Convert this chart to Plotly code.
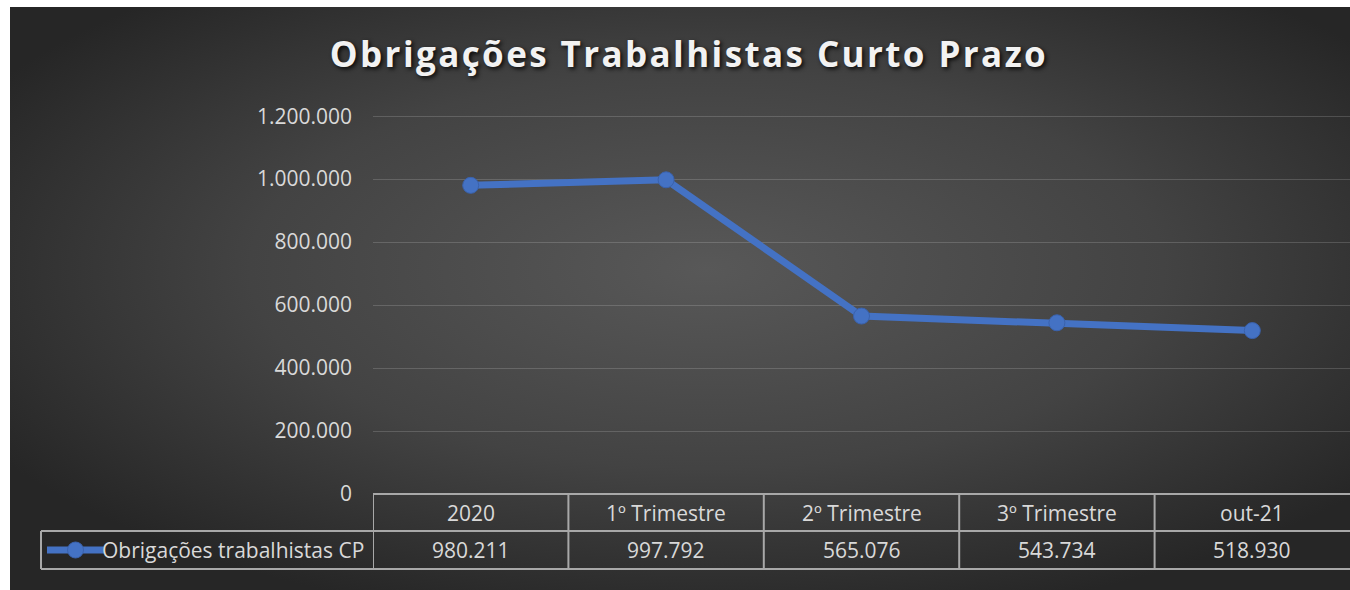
import base64
import plotly.graph_objects as go

# ---- data ----
categories = ["2020", "1º Trimestre", "2º Trimestre", "3º Trimestre", "out-21"]
values = [980211, 997792, 565076, 543734, 518930]
series_name = "Obrigações trabalhistas CP"
title_text = "Obrigações Trabalhistas Curto Prazo"
y_ticks = [0, 200000, 400000, 600000, 800000, 1000000, 1200000]
y_max = 1210000

# ---- geometry (screen pixels; body margin removed) ----
W, H = 1350, 590
L, R, T, B = 373, 0, 113, 96
PW, PH = W - L - R, H - T - B


def px_x(sx):
    return (sx - L) / PW


def px_y(sy):
    return (H - B - sy) / PH


def fmt(v):
    return f"{v:,}".replace(",", ".")


TXT = "#d9d9d9"
BORDER = "#a8a8a8"
BLUE = "#4472C4"
FONT = "Open Sans"
FS = 21

# radial gradient background as SVG (starts at x=10, y=7 like the reference crop)
BG_W, BG_H = W - 10, H - 7
svg = (
    f'<svg xmlns="http://www.w3.org/2000/svg" width="{BG_W}" height="{BG_H}" viewBox="0 0 {BG_W} {BG_H}">'
    '<defs><radialGradient id="g" cx="52%" cy="45%" r="62%">'
    '<stop offset="0" stop-color="#585858"/>'
    '<stop offset="0.55" stop-color="#434343"/>'
    '<stop offset="1" stop-color="#262626"/>'
    '</radialGradient></defs>'
    f'<rect width="{BG_W}" height="{BG_H}" fill="url(#g)"/></svg>'
)
bg_src = "data:image/svg+xml;base64," + base64.b64encode(svg.encode()).decode()

fig = go.Figure()
fig.add_trace(
    go.Scatter(
        x=list(range(len(categories))),
        y=values,
        mode="lines+markers",
        name=series_name,
        line=dict(color=BLUE, width=7),
        marker=dict(size=16, color=BLUE, line=dict(color="#3a62ad", width=1)),
        hoverinfo="skip",
        showlegend=False,
    )
)

shapes = []
y_top, y_mid, y_bot = px_y(494), px_y(531), px_y(569)
x_leg = px_x(41)
line_style = dict(color=BORDER, width=2)
# horizontal table lines
shapes.append(dict(type="line", xref="paper", yref="paper", x0=0, x1=1, y0=y_top, y1=y_top, line=line_style))
shapes.append(dict(type="line", xref="paper", yref="paper", x0=x_leg, x1=1, y0=y_mid, y1=y_mid, line=line_style))
shapes.append(dict(type="line", xref="paper", yref="paper", x0=x_leg, x1=1, y0=y_bot, y1=y_bot, line=line_style))
# vertical dividers at category boundaries (right border falls outside the crop)
for i in range(len(categories)):
    shapes.append(dict(type="line", xref="x", yref="paper", x0=i - 0.5, x1=i - 0.5,
                       y0=y_top, y1=y_bot, line=line_style))
shapes.append(dict(type="line", xref="paper", yref="paper", x0=x_leg, x1=x_leg,
                   y0=y_mid, y1=y_bot, line=line_style))

# legend key inside the data table
y_row2 = (y_mid + y_bot) / 2
shapes.append(dict(type="line", xref="paper", yref="paper", x0=px_x(47), x1=px_x(104),
                   y0=y_row2, y1=y_row2, line=dict(color=BLUE, width=7)))
shapes.append(dict(type="circle", xref="paper", yref="paper",
                   x0=px_x(67.5), x1=px_x(83.5), y0=y_row2 - 8 / PH, y1=y_row2 + 8 / PH,
                   fillcolor=BLUE, line=dict(color="#3a62ad", width=1)))

annotations = [dict(x=px_x(366), y=y_row2, xref="paper", yref="paper", text=series_name,
                    showarrow=False, font=dict(family=FONT, size=FS, color=TXT),
                    xanchor="right", yanchor="middle")]
for i, (c, v) in enumerate(zip(categories, values)):
    annotations.append(dict(x=i, y=(y_top + y_mid) / 2, xref="x", yref="paper", text=c,
                            showarrow=False, font=dict(family=FONT, size=FS, color=TXT),
                            xanchor="center", yanchor="middle"))
    annotations.append(dict(x=i, y=y_row2, xref="x", yref="paper", text=fmt(v),
                            showarrow=False, font=dict(family=FONT, size=FS, color=TXT),
                            xanchor="center", yanchor="middle"))

fig.update_layout(
    width=W, height=H,
    margin=dict(l=L, r=R, t=T, b=B, pad=0),
    paper_bgcolor="white",
    plot_bgcolor="rgba(0,0,0,0)",
    separators=",.",
    title=dict(
        text='<span style="letter-spacing:2.4px">' + title_text + '</span>',
        x=689 / W, xanchor="center", y=1 - 55 / H, yanchor="middle",
        font=dict(family=FONT, size=35, color="#f2f2f2", weight="bold",
                  shadow="2px 2px 4px rgba(0,0,0,0.85)"),
    ),
    xaxis=dict(range=[-0.5, len(categories) - 0.5], showgrid=False, zeroline=False,
               showticklabels=False, showline=False, fixedrange=True),
    yaxis=dict(range=[0, y_max], tickvals=y_ticks, tickformat=",d",
               showgrid=True, gridcolor="rgba(255,255,255,0.16)", gridwidth=1,
               zeroline=False, showline=False, ticks="", ticklabelstandoff=20,
               tickfont=dict(family=FONT, size=FS, color=TXT), fixedrange=True),
    showlegend=False,
    shapes=shapes,
    annotations=annotations,
    images=[dict(source=bg_src, xref="paper", yref="paper",
                 x=px_x(10), y=px_y(7), sizex=BG_W / PW, sizey=BG_H / PH,
                 xanchor="left", yanchor="top", sizing="stretch", layer="below")],
)

fig.write_html(
    "out.html",
    config={"displayModeBar": False, "staticPlot": True},
    post_script="document.body.style.margin='0px'; document.body.style.overflow='hidden';",
)
